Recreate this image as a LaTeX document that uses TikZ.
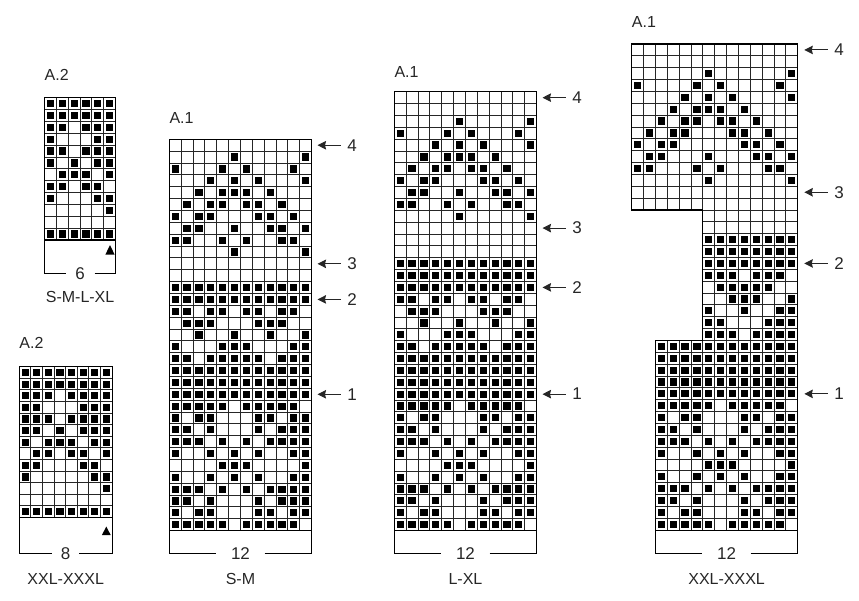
\documentclass[tikz,border=0pt]{standalone}
\usepackage{fontspec}
\setmainfont{Liberation Sans}
\usetikzlibrary{arrows.meta}

\newcommand{\cellsz}{11.86}
\newcommand{\dotsz}{3.6}

% grid of cells: x0, y0 (top left), columns, rows
\newcommand{\chartgrid}[4]{%
  \foreach \i in {0,...,#3} {\draw[cellline] ({#1+\i*\cellsz},{#2}) -- ++(0,{#4*\cellsz});}
  \foreach \j in {0,...,#4} {\draw[cellline] ({#1},{#2+\j*\cellsz}) -- ++({#3*\cellsz},0);}
}
% black stitches: x0, y0, list row/{columns}
\newcommand{\chartdots}[3]{%
  \foreach \r/\cc in #3 {\foreach \k in \cc {%
    \fill ({#1+(\k-0.5)*\cellsz-\dotsz},{#2+(\r-0.5)*\cellsz-\dotsz}) rectangle ++({2*\dotsz},{2*\dotsz});}}
}

\def\topmotif{1/{6,12},2/{1,5,7,11},3/{4,6,8,12},4/{3,5,6,7,9},5/{2,4,5,7,8,10},6/{1,3,4,8,9,11},7/{2,3,6,9,10,12},8/{1,2,5,7,10,11},9/{6,12}}
\def\midmotif{1/{1,2,4,5,7,8,10,11},2/{2,3,4,8,9,10},3/{3,6,9,12},4/{1,5,6,7,11,12},5/{1,2,4,5,6,7,8,10,11,12}}
\def\lowmotif{1/{1,2,3,4,5,7,8,9,10,11},2/{1,3,4,8,9,11,12},3/{1,2,4,8,10,11,12},4/{1,2,3,5,7,9,10,11,12},5/{1,4,6,8,11,12},6/{5,6,7,12},7/{1,4,6,8,11,12},8/{1,2,3,5,7,9,10,11,12},9/{1,2,4,8,10,11,12},10/{1,3,4,8,9,11,12},11/{1,2,3,4,5,7,8,9,10,11}}
\def\smsolid{13/{1,...,12},14/{1,...,12},20/{1,...,12},21/{1,...,12},22/{1,...,12}}
\def\lxsolid{15/{1,...,12},16/{1,...,12},17/{1,...,12},23/{1,...,12},24/{1,...,12},25/{1,...,12},26/{1,...,12}}
\def\xxtop{3/{7,14},4/{1,6,8,13},5/{5,7,9,14},6/{4,6,7,8,10},7/{3,5,6,8,9,11},8/{2,4,5,9,10,12},9/{1,3,4,10,11,13},10/{2,3,7,11,12,14},11/{1,2,6,8,12,13},12/{7,14}}
\def\xxmid{3/{1,...,8},4/{1,...,8},5/{1,...,8},6/{1,2,3,5,6,7},7/{2,3,4,5,6},8/{3,4,5,8},9/{1,4,7,8},10/{1,2,6,7,8},11/{1,2,3,5,6,7,8}}
\def\xxsolid{1/{1,...,12},2/{1,...,12},3/{1,...,12},4/{1,...,12},5/{1,...,12}}
\def\smallrows{1/{1,...,6},2/{1,...,6},3/{1,2,4,5,6},4/{1,5,6},5/{1,2,4,5,6},6/{1,3,5,6},7/{2,3,4,6},8/{1,2,4,5},9/{1,5,6},10/{6},12/{1,...,6}}
\def\bigrows{1/{1,...,8},2/{1,...,8},3/{1,2,3,5,6,7,8},4/{1,2,6,7,8},5/{1,2,3,5,6,7,8},6/{1,2,4,6,7,8},7/{1,3,4,5,7,8},8/{2,3,5,6,8},9/{1,2,6,7},10/{1,7,8},11/{8},13/{1,...,8}}

\tikzset{
  cellline/.style={line width=1pt, black!85},
  chartedge/.style={line width=1.2pt, black},
  arrowin/.style={-{Stealth[length=8.5pt,width=8.5pt,inset=1pt]}, line width=1pt, black!85},
  chartfont/.style={font=\fontsize{16}{19}\selectfont, text=black!85},
  rownum/.style={chartfont, font=\fontsize{17}{20}\selectfont, inner xsep=6.5pt, inner ysep=0pt},
  widthnum/.style={chartfont, font=\fontsize{17}{20}\selectfont, inner ysep=0pt},
  title/.style={chartfont, anchor=west, inner sep=0pt},
  sizename/.style={chartfont, inner sep=0pt}
}

\begin{document}
\begin{tikzpicture}[x=1pt,y=-1pt]
\useasboundingbox (0,0) rectangle (859,600);

% A.2, S-M-L-XL
\node[title] (a2s) at (44.5,75) {A.2};
\chartgrid{44.5}{97.7}{6}{12}
\chartdots{44.5}{97.7}{\smallrows}
\draw[chartedge] (44.5,97.7) rectangle ++({6*\cellsz},{12*\cellsz});
\fill (110,245) -- (105.4,254.6) -- (114.6,254.6) -- cycle;
\node[widthnum, inner xsep=9.5pt] (a2sw) at ({44.5+3*\cellsz},273.5) {6};
\draw[chartedge] (44.5,{97.7+12*\cellsz}) |- (a2sw.west);
\draw[chartedge] (a2sw.east) -| ({44.5+6*\cellsz},{97.7+12*\cellsz});
\node[sizename] (a2ssize) at ({44.5+3*\cellsz},296.5) {S-M-L-XL};

% A.2, XXL-XXXL
\begin{scope}
\renewcommand{\cellsz}{11.6}
\node[title] (a2b) at (19.3,342.5) {A.2};
\chartgrid{19.3}{366.7}{8}{13}
\chartdots{19.3}{366.7}{\bigrows}
\draw[chartedge] (19.3,366.7) rectangle ++({8*\cellsz},{13*\cellsz});
\fill (106.3,526.6) -- (101.9,535) -- (110.7,535) -- cycle;
\node[widthnum, inner xsep=8.5pt] (a2bw) at ({19.3+4*\cellsz},553.5) {8};
\draw[chartedge] (19.3,{366.7+13*\cellsz}) |- (a2bw.west);
\draw[chartedge] (a2bw.east) -| ({19.3+8*\cellsz},{366.7+13*\cellsz});
\node[sizename] (a2bsize) at ({19.3+4*\cellsz},578.5) {XXL-XXXL};
\end{scope}

% A.1, S-M
\node[title] (a1sm) at (169.3,118) {A.1};
\chartgrid{169.3}{139.3}{12}{33}
\chartdots{169.3}{139.3}{\smsolid}
\chartdots{169.3}{139.3+\cellsz}{\topmotif}
\chartdots{169.3}{139.3+14*\cellsz}{\midmotif}
\chartdots{169.3}{139.3+22*\cellsz}{\lowmotif}
\draw[chartedge] (169.3,139.3) rectangle ++({12*\cellsz},{33*\cellsz});
\node[widthnum, inner xsep=14.5pt] (smw) at ({169.3+6*\cellsz},553.5) {12};
\draw[chartedge] (169.3,{139.3+33*\cellsz}) |- (smw.west);
\draw[chartedge] (smw.east) -| ({169.3+12*\cellsz},{139.3+33*\cellsz});
\node[sizename] (smsize) at ({169.3+6*\cellsz},579) {S-M};
\coordinate (smt4) at (317.5,{139.3+0.5*\cellsz});
\coordinate (smt3) at (317.5,{139.3+10.5*\cellsz});
\coordinate (smt2) at (317.5,{139.3+13.5*\cellsz});
\coordinate (smt1) at (317.5,{139.3+21.5*\cellsz});
\node[rownum] (sm4) at (352,{139.3+0.5*\cellsz}) {4};
\node[rownum] (sm3) at (352,{139.3+10.5*\cellsz}) {3};
\node[rownum] (sm2) at (352,{139.3+13.5*\cellsz}) {2};
\node[rownum] (sm1) at (352,{139.3+21.5*\cellsz}) {1};
\draw[arrowin] (sm4) -- (smt4);
\draw[arrowin] (sm3) -- (smt3);
\draw[arrowin] (sm2) -- (smt2);
\draw[arrowin] (sm1) -- (smt1);

% A.1, L-XL
\node[title] (a1lx) at (394.3,72) {A.1};
\chartgrid{394.3}{91.7}{12}{37}
\chartdots{394.3}{91.7}{\lxsolid}
\chartdots{394.3}{91.7+2*\cellsz}{\topmotif}
\chartdots{394.3}{91.7+17*\cellsz}{\midmotif}
\chartdots{394.3}{91.7+26*\cellsz}{\lowmotif}
\draw[chartedge] (394.3,91.7) rectangle ++({12*\cellsz},{37*\cellsz});
\node[widthnum, inner xsep=14.5pt] (lxw) at ({394.3+6*\cellsz},553.5) {12};
\draw[chartedge] (394.3,{91.7+37*\cellsz}) |- (lxw.west);
\draw[chartedge] (lxw.east) -| ({394.3+12*\cellsz},{91.7+37*\cellsz});
\node[sizename] (lxsize) at ({394.3+6*\cellsz},579) {L-XL};
\coordinate (lxt4) at (542.5,{91.7+0.5*\cellsz});
\coordinate (lxt3) at (542.5,{91.7+11.5*\cellsz});
\coordinate (lxt2) at (542.5,{91.7+16.5*\cellsz});
\coordinate (lxt1) at (542.5,{91.7+25.5*\cellsz});
\node[rownum] (lx4) at (577,{91.7+0.5*\cellsz}) {4};
\node[rownum] (lx3) at (577,{91.7+11.5*\cellsz}) {3};
\node[rownum] (lx2) at (577,{91.7+16.5*\cellsz}) {2};
\node[rownum] (lx1) at (577,{91.7+25.5*\cellsz}) {1};
\draw[arrowin] (lx4) -- (lxt4);
\draw[arrowin] (lx3) -- (lxt3);
\draw[arrowin] (lx2) -- (lxt2);
\draw[arrowin] (lx1) -- (lxt1);

% A.1, XXL-XXXL
\node[title] (a1xx) at (631.7,21.5) {A.1};
\chartgrid{631.7}{44}{14}{14}
\chartgrid{631.7+6*\cellsz}{44+14*\cellsz}{8}{11}
\chartgrid{631.7+2*\cellsz}{44+25*\cellsz}{12}{16}
\chartdots{631.7}{44}{\xxtop}
\chartdots{631.7+6*\cellsz}{44+14*\cellsz}{\xxmid}
\chartdots{631.7+2*\cellsz}{44+25*\cellsz}{\xxsolid}
\chartdots{631.7+2*\cellsz}{44+30*\cellsz}{\lowmotif}
\draw[chartedge] (631.7,44) -- ({631.7+14*\cellsz},44) -- ({631.7+14*\cellsz},{44+41*\cellsz})
  -- ({631.7+2*\cellsz},{44+41*\cellsz}) -- ({631.7+2*\cellsz},{44+25*\cellsz})
  -- ({631.7+6*\cellsz},{44+25*\cellsz}) -- ({631.7+6*\cellsz},{44+14*\cellsz})
  -- (631.7,{44+14*\cellsz}) -- cycle;
\node[widthnum, inner xsep=14.5pt] (xxw) at ({631.7+8*\cellsz},553.5) {12};
\draw[chartedge] ({631.7+2*\cellsz},{44+41*\cellsz}) |- (xxw.west);
\draw[chartedge] (xxw.east) -| ({631.7+14*\cellsz},{44+41*\cellsz});
\node[sizename] (xxsize) at ({631.7+8*\cellsz},579) {XXL-XXXL};
\coordinate (xxt4) at (804.3,{44+0.5*\cellsz});
\coordinate (xxt3) at (804.3,{44+12.5*\cellsz});
\coordinate (xxt2) at (804.3,{44+18.5*\cellsz});
\coordinate (xxt1) at (804.3,{44+29.5*\cellsz});
\node[rownum] (xx4) at (839,{44+0.5*\cellsz}) {4};
\node[rownum] (xx3) at (839,{44+12.5*\cellsz}) {3};
\node[rownum] (xx2) at (839,{44+18.5*\cellsz}) {2};
\node[rownum] (xx1) at (839,{44+29.5*\cellsz}) {1};
\draw[arrowin] (xx4) -- (xxt4);
\draw[arrowin] (xx3) -- (xxt3);
\draw[arrowin] (xx2) -- (xxt2);
\draw[arrowin] (xx1) -- (xxt1);
\end{tikzpicture}
\end{document}
